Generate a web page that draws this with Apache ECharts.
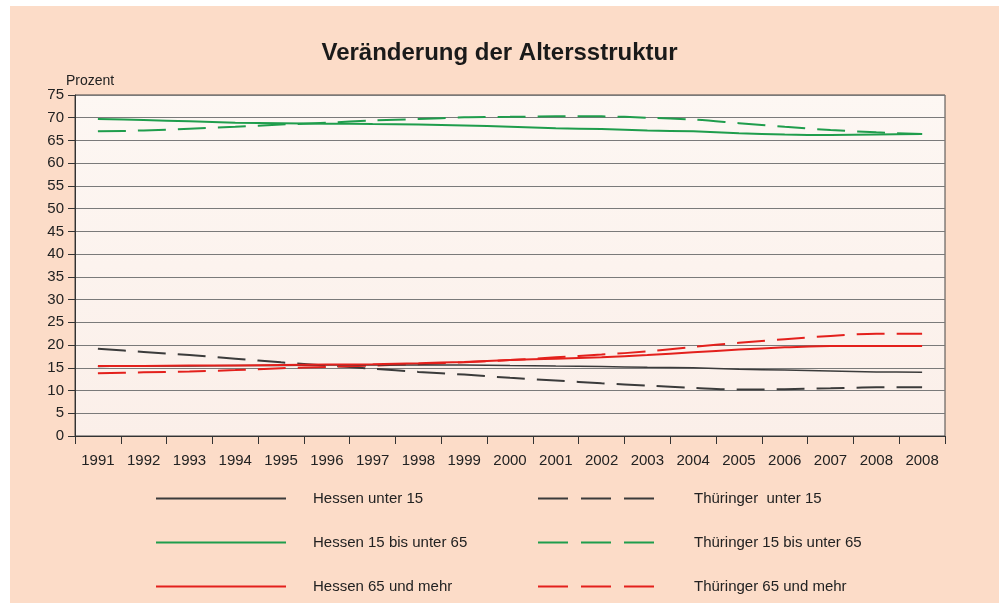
<!DOCTYPE html>
<html>
<head>
<meta charset="utf-8">
<script src="https://cdn.jsdelivr.net/npm/echarts@6/dist/echarts.min.js"></script>
<style>
html,body{margin:0;padding:0;background:#ffffff;}
#bg{position:absolute;left:10px;top:6px;width:989px;height:597px;background:#fcdcc8;}
#chart{position:absolute;left:0;top:0;width:999px;height:603px;}
</style>
</head>
<body>
<div id="bg"></div>
<div id="chart"></div>
<script>
const categories = ['1991','1992','1993','1994','1995','1996','1997','1998','1999','2000','2001','2002','2003','2004','2005','2006','2007','2008','2008'];
const yTicks = [0,5,10,15,20,25,30,35,40,45,50,55,60,65,70,75];

const hessenUnter15 = [15.3,15.4,15.4,15.5,15.5,15.6,15.6,15.6,15.6,15.5,15.4,15.3,15.1,15.0,14.7,14.5,14.3,14.1,14.0];
const thueringenUnter15 = [19.2,18.5,17.8,17.0,16.2,15.5,14.8,14.1,13.5,12.8,12.2,11.6,11.1,10.6,10.2,10.3,10.5,10.7,10.7];
const hessen15bis65 = [69.7,69.5,69.2,68.9,68.8,68.7,68.6,68.5,68.3,68.0,67.7,67.5,67.2,67.0,66.6,66.3,66.2,66.3,66.4];
const thueringen15bis65 = [67.0,67.2,67.6,68.0,68.5,68.9,69.4,69.7,70.1,70.2,70.3,70.3,70.0,69.6,68.8,68.0,67.3,66.8,66.4];
const hessen65 = [15.4,15.4,15.5,15.5,15.6,15.7,15.8,16.0,16.3,16.7,17.0,17.3,17.8,18.4,19.0,19.5,19.8,19.8,19.8];
const thueringen65 = [13.8,14.0,14.2,14.5,14.9,15.2,15.5,15.8,16.2,16.7,17.3,17.9,18.6,19.6,20.5,21.3,22.0,22.5,22.5];

const names = {
  hu: 'Hessen unter 15',
  tu: 'Thüringer  unter 15',
  hm: 'Hessen 15 bis unter 65',
  tm: 'Thüringer 15 bis unter 65',
  ho: 'Hessen 65 und mehr',
  to: 'Thüringer 65 und mehr'
};
const BLACK = '#3b3b3b', GREEN = '#1f9d4c', RED = '#e3201c';
const FONT = 'Liberation Sans';

function line(name, data, color, dashed, width) {
  return {
    name: name, type: 'line', data: data, symbol: 'none', smooth: 0.3,
    lineStyle: { color: color, width: width, type: dashed ? [28, 12] : 'solid' },
    itemStyle: { color: color }, z: dashed ? 3 : 4
  };
}

const chart = echarts.init(document.getElementById('chart'));
chart.setOption({
  backgroundColor: 'transparent',
  animation: false,
  textStyle: { fontFamily: FONT },
  title: [
    { text: 'Veränderung der Altersstruktur', left: 'center', top: 36,
      textStyle: { fontFamily: FONT, fontSize: 24, fontWeight: 'bold', color: '#1a1a1a' } },
    { text: 'Prozent', left: 61, top: 69,
      textStyle: { fontFamily: FONT, fontSize: 14, fontWeight: 'normal', color: '#222' } }
  ],
  grid: {
    left: 75, top: 95, right: 54, bottom: 167, show: true,
    backgroundColor: new echarts.graphic.LinearGradient(0, 0, 0, 1, [
      { offset: 0, color: '#fdf7f3' }, { offset: 1, color: '#fbefe9' }
    ]),
    borderColor: '#444', borderWidth: 1
  },
  legend: [
    { data: [names.hu, names.hm, names.ho], orient: 'vertical', left: 150, top: 486,
      itemWidth: 130, itemHeight: 14, itemGap: 29,
      itemStyle: { opacity: 0 },
      textStyle: { fontFamily: FONT, fontSize: 15, color: '#222', padding: [0, 0, 0, 22] } },
    { data: [names.tu, names.tm, names.to], orient: 'vertical', left: 532, top: 486,
      itemWidth: 116, itemHeight: 14, itemGap: 29,
      itemStyle: { opacity: 0 },
      lineStyle: { type: [30, 13] },
      textStyle: { fontFamily: FONT, fontSize: 15, color: '#222', padding: [0, 0, 0, 35] } }
  ],
  xAxis: {
    type: 'category', data: categories, boundaryGap: true,
    axisLine: { lineStyle: { color: '#333', width: 1 } },
    axisTick: { show: true, length: 8, interval: 0, lineStyle: { color: '#333' } },
    axisLabel: { interval: 0, margin: 17, fontSize: 15, color: '#222', fontFamily: FONT }
  },
  yAxis: {
    type: 'value', min: 0, max: 75, interval: 5,
    axisLine: { show: true, lineStyle: { color: '#333', width: 1 } },
    axisTick: { show: true, length: 7, lineStyle: { color: '#333' } },
    axisLabel: { margin: 11, fontSize: 15, color: '#222', fontFamily: FONT,
      formatter: function (v) { return yTicks.indexOf(v) >= 0 ? String(v) : ''; } },
    splitLine: { show: true, lineStyle: { color: '#7a7a7a', width: 1 } }
  },
  series: [
    line(names.hu, hessenUnter15, BLACK, false, 1.5),
    line(names.tu, thueringenUnter15, BLACK, true, 2),
    line(names.hm, hessen15bis65, GREEN, false, 2),
    line(names.tm, thueringen15bis65, GREEN, true, 2),
    line(names.ho, hessen65, RED, false, 2),
    line(names.to, thueringen65, RED, true, 2)
  ]
});
</script>
</body>
</html>
